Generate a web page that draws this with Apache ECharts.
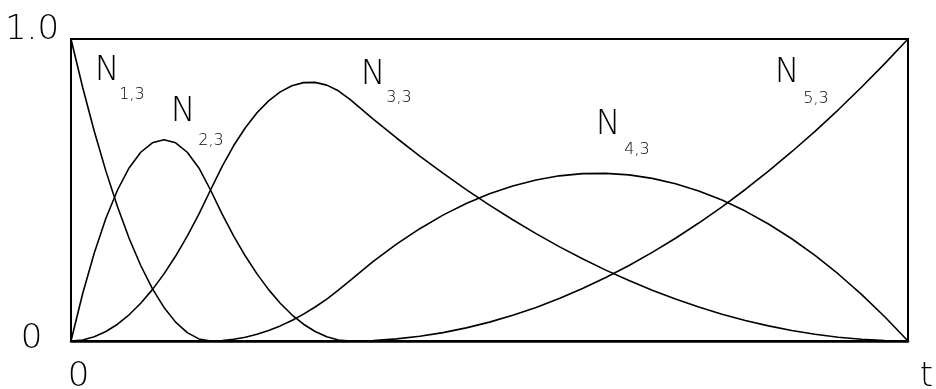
<!DOCTYPE html>
<html>
<head>
<meta charset="utf-8">
<title>Quadratic B-spline basis functions</title>
<script src="https://cdn.jsdelivr.net/npm/echarts@6/dist/echarts.min.js"></script>
<style>
  html, body { margin: 0; padding: 0; background: #fff; }
  #chart { width: 936px; height: 389px; }
</style>
</head>
<body>
<div id="chart"></div>
<script>
// Parameter samples t on [0, 1] (knot vector 0,0,0,1/6,1/3,1,1,1)
const tValues = [
  0, 0.0139, 0.0278, 0.0417, 0.0556, 0.0694, 0.0833, 0.0972, 0.1111, 0.125,
  0.1389, 0.1528, 0.1667, 0.1806, 0.1944, 0.2083, 0.2222, 0.2361, 0.25, 0.2639,
  0.2778, 0.2917, 0.3056, 0.3194, 0.3333, 0.3611, 0.3889, 0.4167, 0.4444, 0.4722,
  0.5, 0.5278, 0.5556, 0.5833, 0.6111, 0.6389, 0.6667, 0.6944, 0.7222, 0.75,
  0.7778, 0.8056, 0.8333, 0.8611, 0.8889, 0.9167, 0.9444, 0.9722, 1
];

// Basis function values N_{i,3}(t) at the samples above
const n13 = [
  1, 0.8403, 0.6944, 0.5625, 0.4444, 0.3403, 0.25, 0.1736, 0.1111, 0.0625,
  0.0278, 0.0069, 0, 0, 0, 0, 0, 0, 0, 0,
  0, 0, 0, 0, 0, 0, 0, 0, 0, 0,
  0, 0, 0, 0, 0, 0, 0, 0, 0, 0,
  0, 0, 0, 0, 0, 0, 0, 0, 0
];
const n23 = [
  0, 0.1563, 0.2917, 0.4063, 0.5, 0.5729, 0.625, 0.6563, 0.6667, 0.6563,
  0.625, 0.5729, 0.5, 0.4201, 0.3472, 0.2813, 0.2222, 0.1701, 0.125, 0.0868,
  0.0556, 0.0313, 0.0139, 0.0035, 0, 0, 0, 0, 0, 0,
  0, 0, 0, 0, 0, 0, 0, 0, 0, 0,
  0, 0, 0, 0, 0, 0, 0, 0, 0
];
const n33 = [
  0, 0.0035, 0.0139, 0.0313, 0.0556, 0.0868, 0.125, 0.1701, 0.2222, 0.2813,
  0.3472, 0.4201, 0.5, 0.5785, 0.6472, 0.7063, 0.7556, 0.7951, 0.825, 0.8451,
  0.8556, 0.8563, 0.8472, 0.8285, 0.8, 0.7347, 0.6722, 0.6125, 0.5556, 0.5014,
  0.45, 0.4014, 0.3556, 0.3125, 0.2722, 0.2347, 0.2, 0.1681, 0.1389, 0.1125,
  0.0889, 0.0681, 0.05, 0.0347, 0.0222, 0.0125, 0.0056, 0.0014, 0
];
const n43 = [
  0, 0, 0, 0, 0, 0, 0, 0, 0, 0,
  0, 0, 0, 0.0014, 0.0056, 0.0125, 0.0222, 0.0347, 0.05, 0.0681,
  0.0889, 0.1125, 0.1389, 0.1681, 0.2, 0.2635, 0.3208, 0.3719, 0.4167, 0.4552,
  0.4875, 0.5135, 0.5333, 0.5469, 0.5542, 0.5552, 0.55, 0.5385, 0.5208, 0.4969,
  0.4667, 0.4302, 0.3875, 0.3385, 0.2833, 0.2219, 0.1542, 0.0802, 0
];
const n53 = [
  0, 0, 0, 0, 0, 0, 0, 0, 0, 0,
  0, 0, 0, 0, 0, 0, 0, 0, 0, 0,
  0, 0, 0, 0, 0, 0.0017, 0.0069, 0.0156, 0.0278, 0.0434,
  0.0625, 0.0851, 0.1111, 0.1406, 0.1736, 0.2101, 0.25, 0.2934, 0.3403, 0.3906,
  0.4444, 0.5017, 0.5625, 0.6267, 0.6944, 0.7656, 0.8403, 0.9184, 1
];

const seriesValues = [n13, n23, n33, n43, n53];
const seriesSubscripts = ['1,3', '2,3', '3,3', '4,3', '5,3'];

// Axis tick values and their labels
const xTicks = [0, 1];
const xTickLabels = ['0', 't'];
const yTicks = [0, 1];
const yTickLabels = ['0', '1.0'];

const FONT = "'DejaVu Sans', 'DejaVu Sans ExtraLight', sans-serif";
const WEIGHT = 200;

// Curve label anchors (pixel centres of the N and of its subscript)
const labelAnchors = [
  { n: [107, 71], s: [132, 95] },
  { n: [183, 112], s: [211, 141] },
  { n: [373, 75], s: [399, 98] },
  { n: [608, 125], s: [637, 150] },
  { n: [787, 73], s: [816, 99] }
];

// Offsets of each tick label centre from its tick position
const xLabelOffsets = [[7.5, 36], [18.5, 36]];
const yLabelOffsets = [[-39.5, -2], [-39, -9]];

const chart = echarts.init(document.getElementById('chart'), null, { renderer: 'canvas' });

function textEl(x, y, text, size) {
  return {
    type: 'text', x: x, y: y, silent: true,
    style: {
      text: text, font: WEIGHT + ' ' + size + 'px ' + FONT,
      fill: '#000', align: 'center', verticalAlign: 'middle'
    }
  };
}

chart.setOption({
  animation: false,
  backgroundColor: '#fff',
  grid: {
    left: 71, right: 28, top: 39, bottom: 48,
    show: true, borderColor: '#000', borderWidth: 2
  },
  xAxis: {
    type: 'value', min: 0, max: 1, interval: 1,
    axisLine: { show: true, lineStyle: { color: '#000', width: 2.5 } },
    axisTick: { show: false },
    splitLine: { show: false },
    axisLabel: { show: false }
  },
  yAxis: {
    type: 'value', min: 0, max: 1, interval: 1,
    axisLine: { show: true, lineStyle: { color: '#000', width: 2 } },
    axisTick: { show: false },
    splitLine: { show: false },
    axisLabel: { show: false }
  },
  series: seriesValues.map((vals, i) => ({
    type: 'line',
    name: 'N' + seriesSubscripts[i],
    data: tValues.map((t, k) => [t, vals[k]]),
    showSymbol: false,
    smooth: false,
    lineStyle: { color: '#000', width: 1.6 },
    emphasis: { disabled: true },
    silent: true
  }))
});

// Tick labels placed from the axes' own scales, plus the curve names
const graphics = [];
xTicks.forEach((v, i) => {
  const p = chart.convertToPixel({ gridIndex: 0 }, [v, 0]);
  graphics.push(textEl(p[0] + xLabelOffsets[i][0], p[1] + xLabelOffsets[i][1], xTickLabels[i], 34));
});
yTicks.forEach((v, i) => {
  const p = chart.convertToPixel({ gridIndex: 0 }, [0, v]);
  graphics.push(textEl(p[0] + yLabelOffsets[i][0], p[1] + yLabelOffsets[i][1], yTickLabels[i], 34));
});
seriesSubscripts.forEach((sub, i) => {
  const a = labelAnchors[i];
  graphics.push(textEl(a.n[0], a.n[1], 'N', 33));
  graphics.push(textEl(a.s[0], a.s[1], sub, 16));
});

chart.setOption({ graphic: graphics });
</script>
</body>
</html>
